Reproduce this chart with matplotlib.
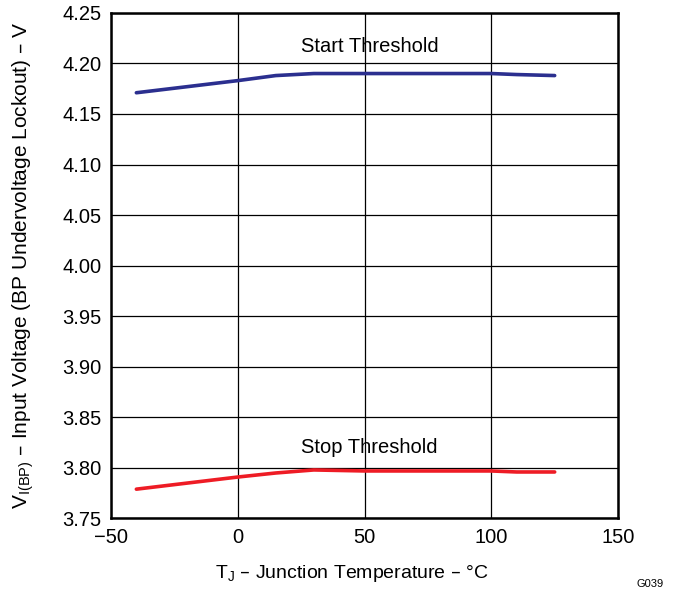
import matplotlib
matplotlib.use("Agg")
import matplotlib.pyplot as plt

temps = [-40, -20, 0, 15, 30, 50, 75, 100, 110, 125]
start_v = [4.171, 4.177, 4.183, 4.188, 4.190, 4.190, 4.190, 4.190, 4.189, 4.188]
stop_v = [3.779, 3.785, 3.791, 3.795, 3.798, 3.797, 3.797, 3.797, 3.796, 3.796]

plt.rcParams["font.family"] = ["Liberation Sans", "DejaVu Sans"]

fig = plt.figure(figsize=(6.74, 5.90), dpi=100)
ax = fig.add_axes([0.1647, 0.1212, 0.7523, 0.857])

ax.plot(temps, start_v, color="#2b2f8f", lw=2.6, solid_capstyle="round")
ax.plot(temps, stop_v, color="#ee1c25", lw=2.6, solid_capstyle="round")

ax.text(52, 4.2165, "Start Threshold", ha="center", va="center", fontsize=14.5)
ax.text(52, 3.820, "Stop Threshold", ha="center", va="center", fontsize=14.5)

ax.set_xlim(-50, 150)
ax.set_ylim(3.75, 4.25)
ax.set_xticks([-50, 0, 50, 100, 150])
ax.set_xticklabels(["\u221250", "0", "50", "100", "150"])
ax.set_yticks([3.75 + 0.05 * i for i in range(11)])
ax.set_yticklabels([f"{3.75 + 0.05 * i:.2f}" for i in range(11)])
ax.tick_params(length=0, labelsize=14.5, pad=7)
ax.grid(True, color="black", lw=0.9)
for s in ax.spines.values():
    s.set_linewidth(1.8)

ax.set_xlabel("T$_\\mathregular{J}$ \u2013 Junction Temperature \u2013 \u00b0C", fontsize=14)
ax.xaxis.set_label_coords(0.475, -0.088)
ax.set_ylabel("V$_\\mathregular{I(BP)}$ \u2013 Input Voltage (BP Undervoltage Lockout) \u2013 V",
              fontsize=15, labelpad=19)

fig.text(0.985, 0.001, "G039", ha="right", va="bottom", fontsize=8)

fig.savefig("out.png", dpi=100)
